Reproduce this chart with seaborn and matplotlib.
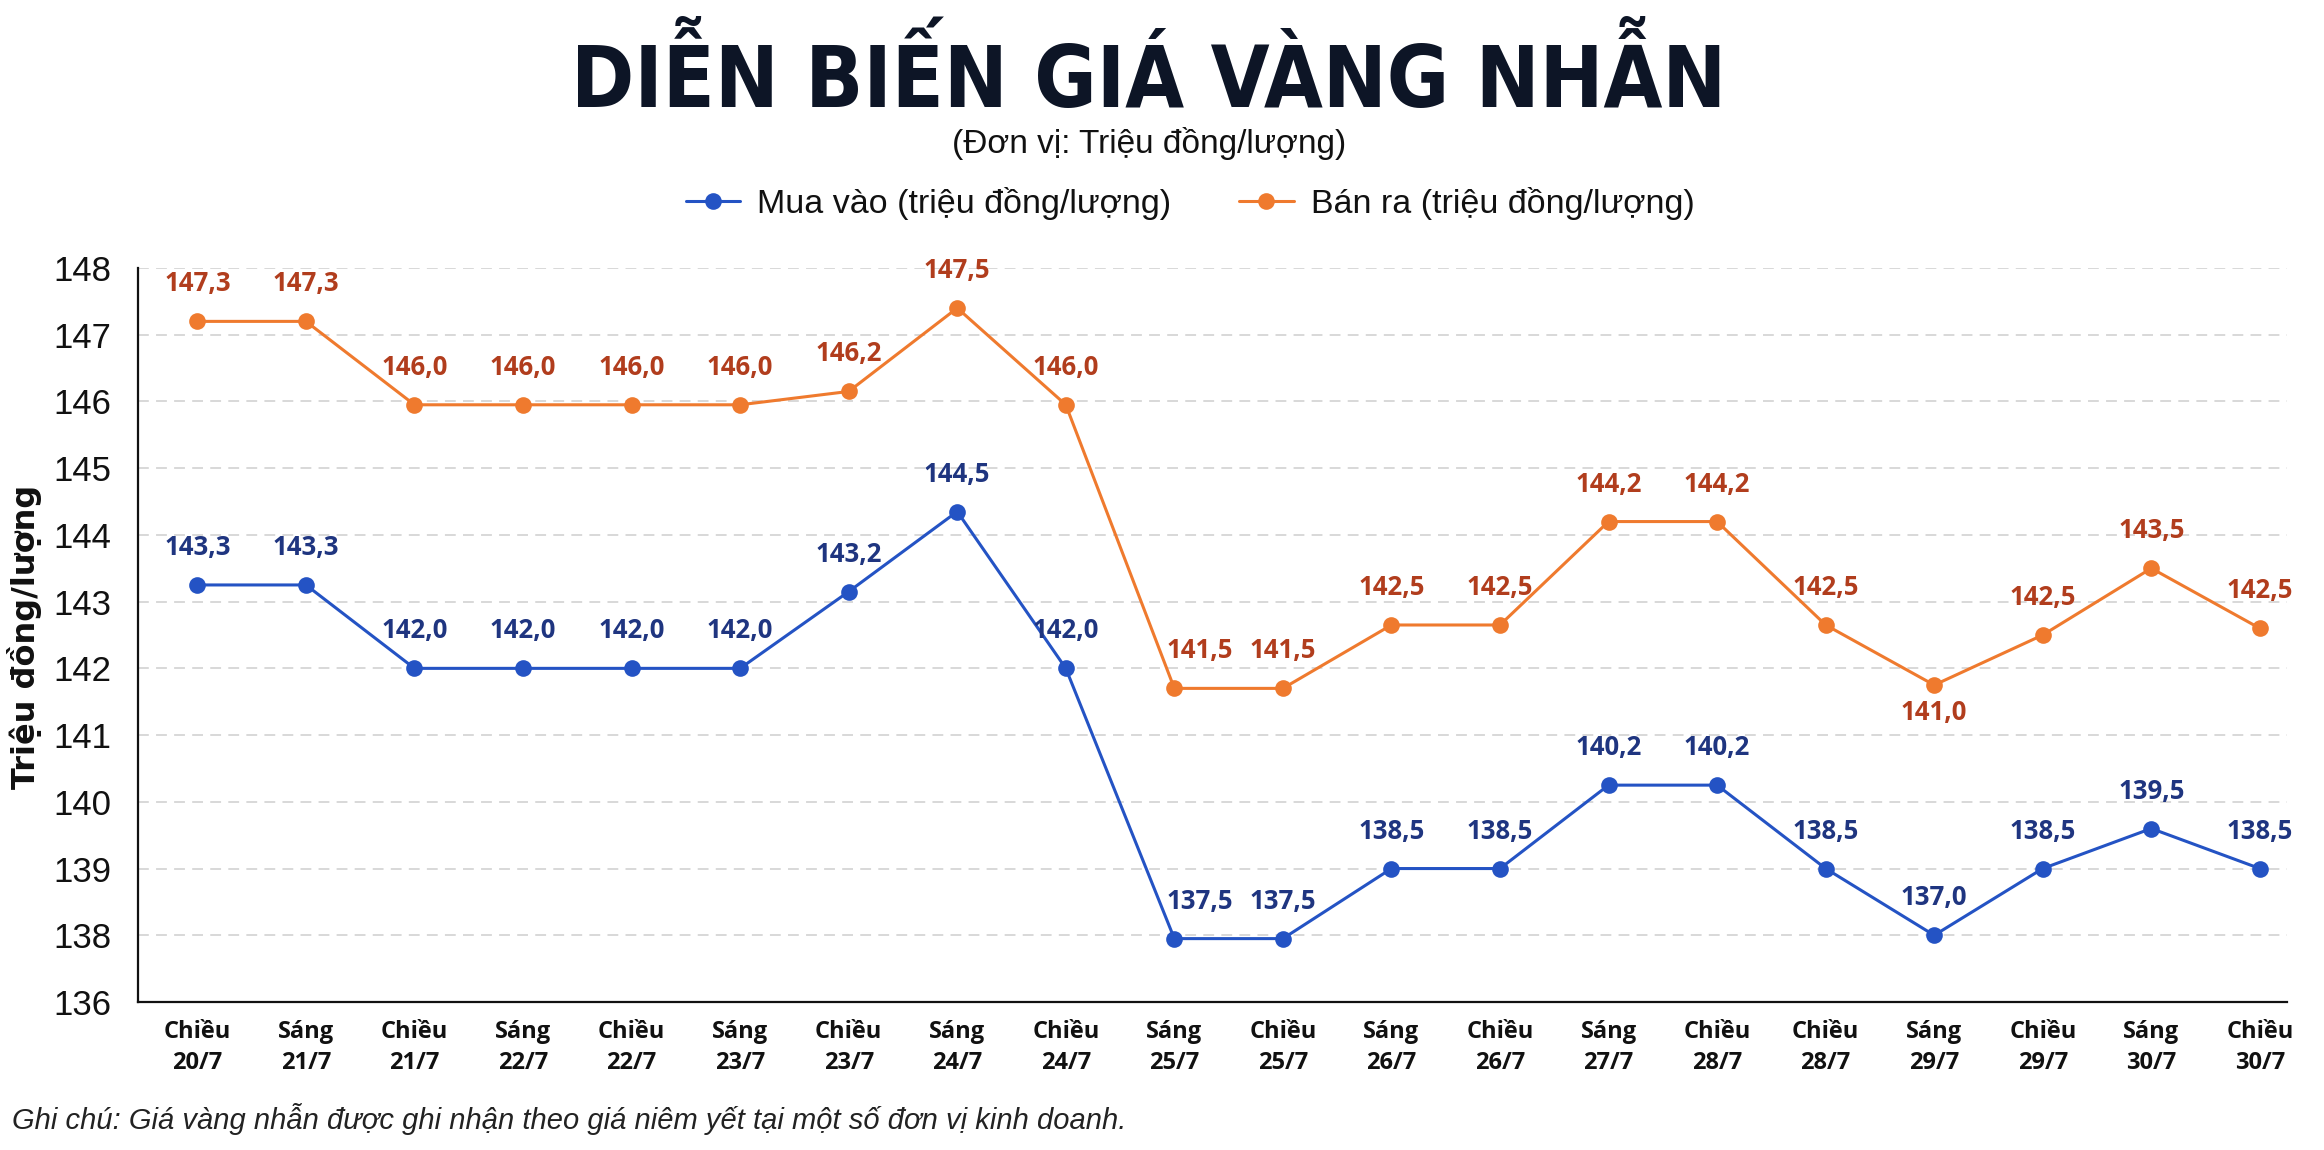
import pandas as pd
import seaborn as sns
import matplotlib.pyplot as plt
from matplotlib.lines import Line2D

# du lieu doc tu bieu do
sessions = ["Chiều\n20/7", "Sáng\n21/7", "Chiều\n21/7", "Sáng\n22/7", "Chiều\n22/7",
            "Sáng\n23/7", "Chiều\n23/7", "Sáng\n24/7", "Chiều\n24/7", "Sáng\n25/7",
            "Chiều\n25/7", "Sáng\n26/7", "Chiều\n26/7", "Sáng\n27/7", "Chiều\n28/7",
            "Chiều\n28/7", "Sáng\n29/7", "Chiều\n29/7", "Sáng\n30/7", "Chiều\n30/7"]

# gia ghi tren nhan
mua_vao = [143.3, 143.3, 142.0, 142.0, 142.0, 142.0, 143.2, 144.5, 142.0, 137.5,
           137.5, 138.5, 138.5, 140.2, 140.2, 138.5, 137.0, 138.5, 139.5, 138.5]
ban_ra = [147.3, 147.3, 146.0, 146.0, 146.0, 146.0, 146.2, 147.5, 146.0, 141.5,
          141.5, 142.5, 142.5, 144.2, 144.2, 142.5, 141.0, 142.5, 143.5, 142.5]

# vi tri diem tren truc (nhu tren hinh goc)
mua_vao_pos = [143.25, 143.25, 142.0, 142.0, 142.0, 142.0, 143.15, 144.35, 142.0, 137.95,
               137.95, 139.0, 139.0, 140.25, 140.25, 139.0, 138.0, 139.0, 139.6, 139.0]
ban_ra_pos = [147.2, 147.2, 145.95, 145.95, 145.95, 145.95, 146.15, 147.4, 145.95, 141.7,
              141.7, 142.65, 142.65, 144.2, 144.2, 142.65, 141.75, 142.5, 143.5, 142.6]

y_ticks = [137, 138, 139, 140, 141, 142, 143, 144, 145, 146, 147, 148]
y_tick_labels = ["136", "138", "139", "140", "141", "142", "143", "144", "145", "146", "147", "148"]

name_mua = "Mua vào (triệu đồng/lượng)"
name_ban = "Bán ra (triệu đồng/lượng)"

BLUE = "#2453c4"
ORANGE = "#ef7a2e"
BLUE_TXT = "#1f3580"
ORANGE_TXT = "#b13d1d"
LABEL_FONT = ["Open Sans", "Roboto", "DejaVu Sans"]

n = len(sessions)
df = pd.DataFrame({
    "x": list(range(n)) * 2,
    "y": mua_vao_pos + ban_ra_pos,
    "series": [name_mua] * n + [name_ban] * n,
})

sns.set_theme(style="white")
plt.rcParams["font.family"] = ["Liberation Sans", "DejaVu Sans"]

W, H = 2324, 1150
fig = plt.figure(figsize=(W / 100, H / 100), dpi=100)
fig.patch.set_facecolor("white")
ax = fig.add_axes([138 / W, 1 - 1002 / H, (2287 - 138) / W, (1002 - 268) / H])

sns.lineplot(data=df, x="x", y="y", hue="series", palette={name_mua: BLUE, name_ban: ORANGE},
             marker="o", markersize=12, markeredgewidth=0, linewidth=2.2, legend=False,
             sort=False, ax=ax)

ax.set_xlim(-0.547, 19.25)
ax.set_ylim(137, 148)
ax.set_yticks(y_ticks)
ax.set_yticklabels(y_tick_labels)
ax.set_xticks(range(n))
ax.set_xticklabels(sessions, fontfamily=LABEL_FONT, fontweight="bold", fontsize=17,
                   linespacing=1.4, color="#111111")
ax.tick_params(axis="y", labelsize=25, length=7, width=1.4, pad=12, color="#111111",
               labelcolor="#111111")
ax.tick_params(axis="x", length=5, width=1.2, pad=8, color="#444444")
ax.set_xlabel("")
ax.set_ylabel("")

for t in y_ticks[1:]:
    ax.axhline(t, color="#d6d6d6", lw=1.3, ls=(0, (6, 4)), zorder=0)

for s in ["top", "right"]:
    ax.spines[s].set_visible(False)
for s in ["left", "bottom"]:
    ax.spines[s].set_color("#111111")
    ax.spines[s].set_linewidth(1.6)

# nhan gia tri
for i in range(n):
    dx = 18 if i == 9 else 0
    ax.annotate(f"{mua_vao[i]:.1f}".replace(".", ","), (i, mua_vao_pos[i]),
                xytext=(dx, 27), textcoords="offset points", ha="center", va="center",
                fontsize=18.5, fontweight="bold", fontfamily=LABEL_FONT, color=BLUE_TXT)
    dy = -20 if i == 16 else 27
    ax.annotate(f"{ban_ra[i]:.1f}".replace(".", ","), (i, ban_ra_pos[i]),
                xytext=(dx, dy), textcoords="offset points", ha="center", va="center",
                fontsize=18.5, fontweight="bold", fontfamily=LABEL_FONT, color=ORANGE_TXT)

fig.text(25 / W, 1 - 637 / H, "Triệu đồng/lượng", rotation=90, ha="center", va="center",
         fontsize=23, fontweight="bold", fontfamily="DejaVu Sans", color="#111111")

# tieu de
title = fig.text(1149 / W, 1 - 107 / H, "DIỄN BIẾN GIÁ VÀNG NHẪN", ha="center", va="baseline",
                 fontsize=90, fontweight="heavy", fontstretch="condensed", color="#0d1526",
                 fontfamily=["DejaVu Sans"])
fig.canvas.draw()
w = title.get_window_extent().width
title.set_fontsize(90 * 1156 / w)

fig.text(1149 / W, 1 - 144 / H, "(Đơn vị: Triệu đồng/lượng)", ha="center", va="center",
         fontsize=24, color="#111111")

handles = [Line2D([], [], color=BLUE, marker="o", markersize=12, lw=2.2, markeredgewidth=0),
           Line2D([], [], color=ORANGE, marker="o", markersize=12, lw=2.2, markeredgewidth=0)]
fig.legend(handles, [name_mua, name_ban], loc="center", bbox_to_anchor=(1190 / W, 1 - 203 / H),
           ncol=2, frameon=False, fontsize=24.5, handlelength=1.6, handletextpad=0.5,
           columnspacing=2.0, labelcolor="#111111")

fig.text(12 / W, 1 - 1119 / H,
         "Ghi chú: Giá vàng nhẫn được ghi nhận theo giá niêm yết tại một số đơn vị kinh doanh.",
         ha="left", va="center", fontsize=21, fontstyle="italic", color="#222222")

fig.savefig("out.png", dpi=100, facecolor="white")
